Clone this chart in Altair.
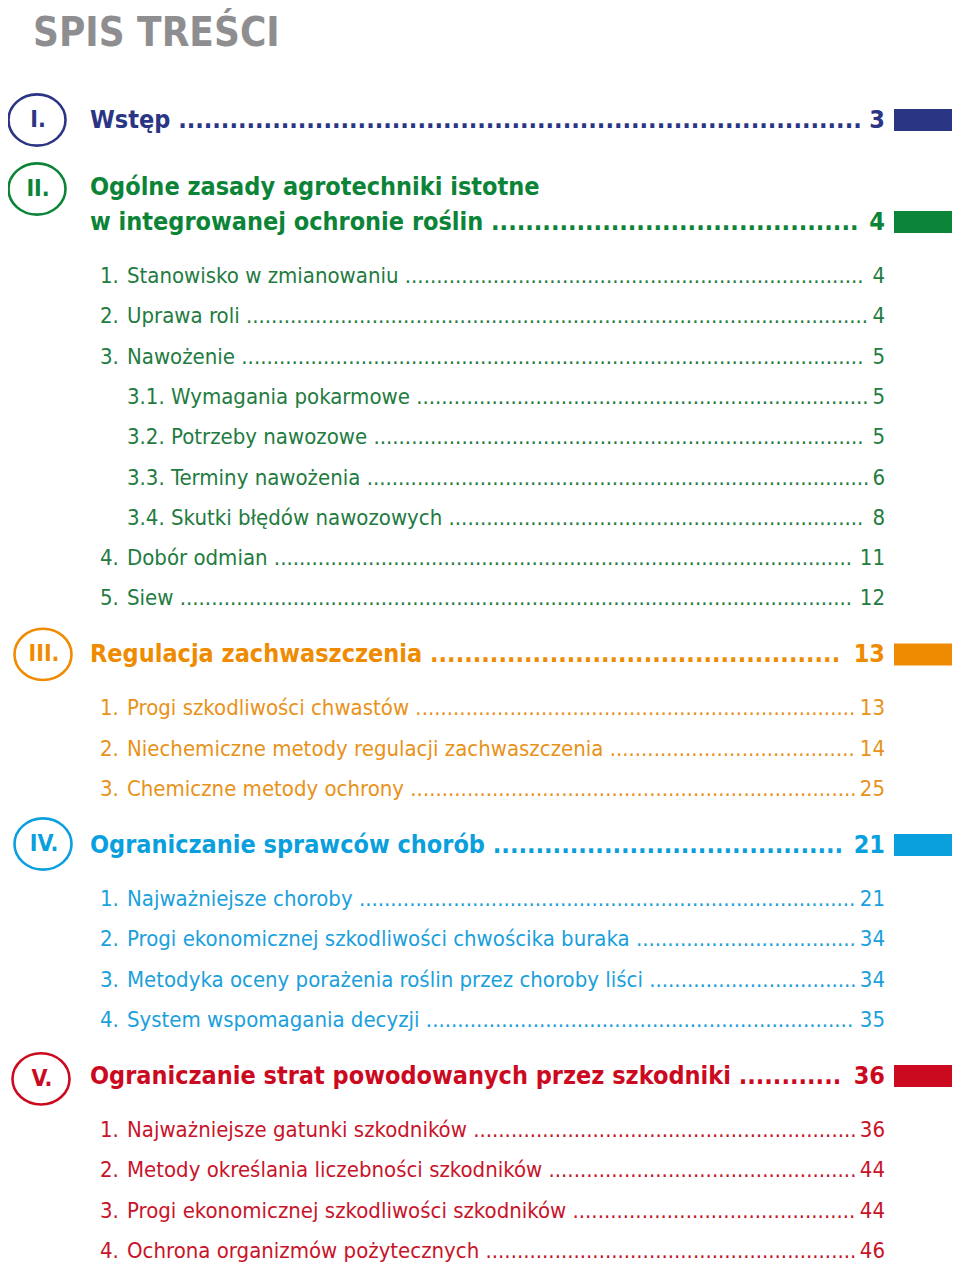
import altair as alt
import pandas as pd

# ---------------- data (text content) ----------------
title_text = ["SPIS TREŚCI"]
numerals = ["I.", "II.", "III.", "IV.", "V."]
section_lines = [
    ["Wstęp"],
    ["Ogólne zasady agrotechniki istotne", "w integrowanej ochronie roślin"],
    ["Regulacja zachwaszczenia"],
    ["Ograniczanie sprawców chorób"],
    ["Ograniczanie strat powodowanych przez szkodniki"],
]
section_pages = ["3", "4", "13", "21", "36"]
section_colors = ["#2a3584", "#0b8438", "#ef8b00", "#0a9fdd", "#cc0a1f"]
sub_colors = ["#2a3584", "#237b3f", "#e8921a", "#1aa0dc", "#c8142a"]
title_color = "#8e8e90"

sub_numbers = [
    [],
    ["1.", "2.", "3.", "", "", "", "", "4.", "5."],
    ["1.", "2.", "3."],
    ["1.", "2.", "3.", "4."],
    ["1.", "2.", "3.", "4."],
]
sub_titles = [
    [],
    ["Stanowisko w zmianowaniu", "Uprawa roli", "Nawożenie",
     "3.1. Wymagania pokarmowe", "3.2. Potrzeby nawozowe", "3.3. Terminy nawożenia",
     "3.4. Skutki błędów nawozowych", "Dobór odmian", "Siew"],
    ["Progi szkodliwości chwastów", "Niechemiczne metody regulacji zachwaszczenia",
     "Chemiczne metody ochrony"],
    ["Najważniejsze choroby", "Progi ekonomicznej szkodliwości chwościka buraka",
     "Metodyka oceny porażenia roślin przez choroby liści", "System wspomagania decyzji"],
    ["Najważniejsze gatunki szkodników", "Metody określania liczebności szkodników",
     "Progi ekonomicznej szkodliwości szkodników", "Ochrona organizmów pożytecznych"],
]
sub_pages = [
    [],
    ["4", "4", "5", "5", "5", "6", "8", "11", "12"],
    ["13", "14", "25"],
    ["21", "34", "34", "35"],
    ["36", "44", "44", "46"],
]

# ---------------- layout ----------------
FONT = "DejaVu Sans Condensed"
TITLE_SIZE, HEAD_SIZE, SUB_SIZE, BADGE_SIZE = 40, 25, 22, 23
X_TITLE, Y_TITLE = 33, 34
X_HEAD, X_SUBNUM, X_SUB, X_PAGE = 90, 100, 127, 885
Y_FIRST, HEAD_GAP, LINE_GAP = 120, 67, 35
HEAD_TO_SUB, SUB_PITCH, SUB_TO_HEAD = 54, 40.3, 56
BADGE_X = [37, 37, 43, 43, 41]
BADGE_DY = [0, 2, 0, -1, 3]
BAR_X0, BAR_X1, BAR_H = 894, 960, 22
HEAD_DIGIT, SUB_DIGIT = 15.7, 12.6
HEAD_GAP_NUM, SUB_GAP_NUM = 5, 3
LEADER = " " + "." * 160

head_rows, page_rows, badge_rows, bar_rows = [], [], [], []
subnum_rows, sub_rows, subpage_rows = [], [], []

y = Y_FIRST
for i in range(len(numerals)):
    if i > 0:
        y = y + (HEAD_GAP if not sub_titles[i - 1] else SUB_TO_HEAD)
    y_head = y
    lines = section_lines[i]
    for j, line in enumerate(lines):
        last = j == len(lines) - 1
        lim = (X_PAGE - len(section_pages[i]) * HEAD_DIGIT - HEAD_GAP_NUM - X_HEAD) if last else 2000
        head_rows.append(dict(x=X_HEAD, y=y, label=line + (LEADER if last else ""),
                              lim=lim, color=section_colors[i]))
        if not last:
            y += LINE_GAP
    page_rows.append(dict(x=X_PAGE, y=y, label=section_pages[i], color=section_colors[i]))
    bar_rows.append(dict(x=BAR_X0, x2=BAR_X1, y=y - BAR_H / 2, y2=y + BAR_H / 2,
                         color=section_colors[i]))
    badge_rows.append(dict(x=BADGE_X[i], y=y_head + BADGE_DY[i], label=numerals[i],
                           color=section_colors[i]))
    for k, t in enumerate(sub_titles[i]):
        y = y + (HEAD_TO_SUB if k == 0 else SUB_PITCH)
        if sub_numbers[i][k]:
            subnum_rows.append(dict(x=X_SUBNUM, y=y, label=sub_numbers[i][k], color=sub_colors[i]))
        lim = X_PAGE - len(sub_pages[i][k]) * SUB_DIGIT - SUB_GAP_NUM - X_SUB
        sub_rows.append(dict(x=X_SUB, y=y, label=t + LEADER, lim=lim, color=sub_colors[i]))
        subpage_rows.append(dict(x=X_PAGE, y=y, label=sub_pages[i][k], color=sub_colors[i]))

W, H = 944, 1254
xs = alt.Scale(domain=[8, 8 + W])
ys = alt.Scale(domain=[8, 8 + H], reverse=True)


def X(f="x"):
    return alt.X(f + ":Q", scale=xs, axis=None)


def Y(f="y"):
    return alt.Y(f + ":Q", scale=ys, axis=None)


col = alt.Color("color:N", scale=None, legend=None)

title = alt.Chart(pd.DataFrame([dict(x=X_TITLE, y=Y_TITLE, label=title_text[0])])).mark_text(
    font=FONT, fontSize=TITLE_SIZE, fontWeight="bold", align="left", baseline="middle",
    color=title_color
).encode(x=X(), y=Y(), text="label:N")

k = 0.9
c = 0.5523
ELLIPSE = (f"M -1,0 C -1,{-c*k:.4f} {-c:.4f},{-k} 0,{-k} C {c:.4f},{-k} 1,{-c*k:.4f} 1,0 "
           f"C 1,{c*k:.4f} {c:.4f},{k} 0,{k} C {-c:.4f},{k} -1,{c*k:.4f} -1,0 Z")

badge_df = pd.DataFrame(badge_rows)
badges = alt.Chart(badge_df).mark_point(
    shape=ELLIPSE, filled=False, size=57 * 57, strokeWidth=2.6, opacity=1
).encode(x=X(), y=Y(), color=col)

badge_txt = alt.Chart(badge_df).mark_text(
    font=FONT, fontSize=BADGE_SIZE, fontWeight="bold", align="center", baseline="middle", dx=1
).encode(x=X(), y=Y(), text="label:N", color=col)

heads = alt.Chart(pd.DataFrame(head_rows)).mark_text(
    font=FONT, fontSize=HEAD_SIZE, fontWeight="bold", align="left", baseline="middle",
    limit={"expr": "datum.lim"}, ellipsis="."
).encode(x=X(), y=Y(), text="label:N", color=col)

pages = alt.Chart(pd.DataFrame(page_rows)).mark_text(
    font=FONT, fontSize=HEAD_SIZE, fontWeight="bold", align="right", baseline="middle"
).encode(x=X(), y=Y(), text="label:N", color=col)

bars = alt.Chart(pd.DataFrame(bar_rows)).mark_rect().encode(
    x=X(), x2="x2:Q", y=Y(), y2="y2:Q", color=col
)

subnums = alt.Chart(pd.DataFrame(subnum_rows)).mark_text(
    font=FONT, fontSize=SUB_SIZE, align="left", baseline="middle"
).encode(x=X(), y=Y(), text="label:N", color=col)

subs = alt.Chart(pd.DataFrame(sub_rows)).mark_text(
    font=FONT, fontSize=SUB_SIZE, align="left", baseline="middle",
    limit={"expr": "datum.lim"}, ellipsis="."
).encode(x=X(), y=Y(), text="label:N", color=col)

subpages = alt.Chart(pd.DataFrame(subpage_rows)).mark_text(
    font=FONT, fontSize=SUB_SIZE, align="right", baseline="middle"
).encode(x=X(), y=Y(), text="label:N", color=col)

chart = alt.layer(title, bars, badges, badge_txt, heads, pages, subnums, subs, subpages).properties(
    width=W, height=H, autosize=alt.AutoSizeParams(type="none"), padding=0
).configure_view(strokeWidth=0)

chart.save("out.html", embed_options={"renderer": "svg", "actions": False})
